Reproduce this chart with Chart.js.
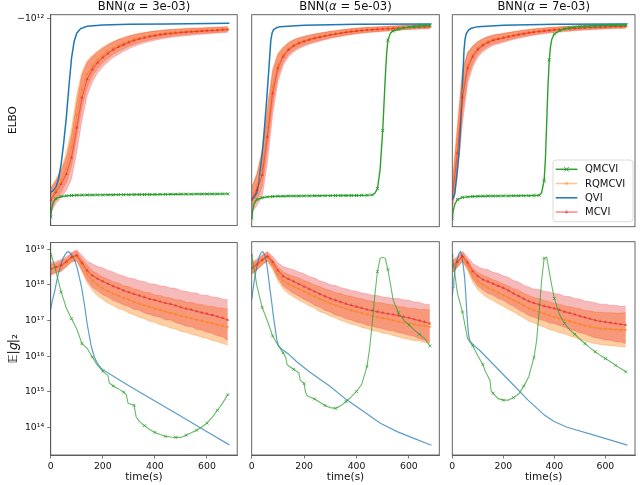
<!DOCTYPE html>
<html><head><meta charset="utf-8">
<title>BNN ELBO and gradient norm</title>
<script src="https://cdn.jsdelivr.net/npm/chart.js@4.4.1/dist/chart.umd.min.js"></script>
<style>
html,body{margin:0;padding:0;background:#fff}
#wrap{position:relative;width:640px;height:485px;overflow:hidden;background:#fff}
canvas{position:absolute}
</style></head><body><div id="wrap"></div>
<script>
// ---------------- DATA ----------------
const alphas = ['3e-03', '5e-03', '7e-03'];
const methods = ['QMCVI', 'RQMCVI', 'QVI', 'MCVI'];
const T = [0,20,40,60,80,100,120,140,160,180,200,220,240,260,280,300,320,340,360,380,400,420,440,460,480,500,520,540,560,580,600,620,640,660,680];
const timeTicks = [0, 200, 400, 600];
const elboTicks = [12];            // log10(-ELBO): -10^12
const gradTicks = [14, 15, 16, 17, 18, 19]; // log10 E|g|2

// ELBO panels: values are log10(-ELBO)
const elbo_MCVI_3e03 = [13.766,13.685,13.605,13.509,13.348,13.059,12.770,12.590,12.495,12.430,12.380,12.340,12.305,12.278,12.255,12.234,12.215,12.200,12.188,12.177,12.168,12.160,12.153,12.147,12.142,12.138,12.134,12.130,12.127,12.124,12.121,12.118,12.115,12.112,12.108];
const elbo_MCVI_hw_3e03 = [0.12,0.11,0.13,0.16,0.21,0.24,0.22,0.16,0.125,0.10,0.09,0.082,0.075,0.072,0.064,0.062,0.056,0.054,0.049,0.047,0.044,0.043,0.040,0.039,0.036,0.035,0.034,0.034,0.031,0.031,0.030,0.030,0.028,0.029,0.027];
const elbo_RQMCVI_3e03 = [13.745,13.660,13.570,13.450,13.250,12.940,12.690,12.540,12.460,12.400,12.355,12.318,12.287,12.262,12.240,12.221,12.204,12.190,12.179,12.169,12.160,12.153,12.146,12.141,12.136,12.132,12.128,12.125,12.122,12.119,12.116,12.114,12.111,12.109,12.105];
const elbo_RQMCVI_hw_3e03 = [0.10,0.10,0.11,0.14,0.18,0.20,0.17,0.13,0.10,0.085,0.075,0.068,0.062,0.058,0.054,0.050,0.047,0.044,0.041,0.039,0.037,0.035,0.034,0.032,0.031,0.030,0.029,0.028,0.027,0.026,0.026,0.025,0.025,0.024,0.024];
const elbo_QVI_3e03 = [[0,13.685],[10,13.669],[20,13.637],[30,13.557],[40,13.413],[50,13.204],[60,12.963],[70,12.658],[80,12.385],[90,12.225],[100,12.144],[115,12.100],[140,12.077],[200,12.064],[300,12.058],[450,12.055],[686,12.048]];
const elbo_QMCVI_3e03 = [[0,13.926],[3,13.862],[8,13.798],[15,13.759],[20,13.748],[40,13.727],[60,13.721],[80,13.717],[100,13.714],[120,13.713],[140,13.712],[160,13.712],[180,13.711],[200,13.711],[220,13.710],[240,13.710],[260,13.709],[280,13.709],[300,13.709],[320,13.708],[340,13.708],[360,13.707],[380,13.707],[400,13.707],[420,13.706],[440,13.706],[460,13.705],[480,13.705],[500,13.705],[520,13.704],[540,13.704],[560,13.703],[580,13.703],[600,13.703],[620,13.702],[640,13.702],[660,13.701],[680,13.701]];

const elbo_MCVI_5e03 = [13.750,13.653,13.509,13.140,12.722,12.480,12.369,12.305,12.266,12.241,12.222,12.206,12.193,12.181,12.170,12.160,12.151,12.143,12.135,12.128,12.122,12.117,12.112,12.109,12.106,12.103,12.100,12.097,12.093,12.090,12.087,12.085,12.083,12.081,12.080];
const elbo_MCVI_hw_5e03 = [0.12,0.15,0.21,0.25,0.21,0.13,0.085,0.068,0.058,0.052,0.047,0.044,0.041,0.039,0.036,0.035,0.033,0.032,0.030,0.029,0.028,0.027,0.026,0.025,0.025,0.024,0.023,0.023,0.022,0.022,0.021,0.021,0.020,0.020,0.020];
const elbo_RQMCVI_5e03 = [13.730,13.620,13.440,13.050,12.660,12.445,12.348,12.290,12.255,12.232,12.214,12.199,12.187,12.176,12.166,12.156,12.148,12.140,12.133,12.126,12.120,12.115,12.110,12.107,12.104,12.101,12.098,12.095,12.092,12.089,12.086,12.084,12.082,12.080,12.078];
const elbo_RQMCVI_hw_5e03 = [0.10,0.13,0.18,0.21,0.17,0.11,0.072,0.058,0.050,0.045,0.041,0.038,0.036,0.034,0.032,0.031,0.029,0.028,0.027,0.026,0.025,0.024,0.023,0.022,0.022,0.021,0.021,0.020,0.020,0.019,0.019,0.019,0.018,0.018,0.018];
const elbo_QVI_5e03 = [[0,13.75],[10,13.72],[19,13.685],[27,13.58],[34,13.43],[40,13.3],[47,13.11],[57,12.79],[66,12.47],[73,12.21],[78,12.14],[83,12.11],[95,12.09],[108,12.08],[200,12.066],[400,12.058],[686,12.055]];
const elbo_QMCVI_5e03 = [[0,13.926],[4,13.85],[10,13.78],[20,13.745],[40,13.728],[60,13.72],[80,13.716],[100,13.714],[120,13.713],[140,13.712],[160,13.711],[180,13.711],[200,13.710],[220,13.710],[240,13.709],[260,13.709],[280,13.708],[300,13.708],[320,13.707],[340,13.707],[360,13.707],[380,13.706],[400,13.706],[420,13.705],[440,13.705],[460,13.700],[470,13.685],[480,13.64],[490,13.46],[500,13.08],[505,12.82],[510,12.56],[515,12.34],[520,12.21],[530,12.14],[540,12.122],[560,12.105],[580,12.092],[600,12.085],[620,12.079],[640,12.074],[660,12.070],[680,12.067]];

const elbo_MCVI_7e03 = [13.72,13.30,12.76,12.48,12.37,12.30,12.26,12.232,12.212,12.200,12.190,12.178,12.167,12.157,12.148,12.140,12.133,12.127,12.121,12.116,12.111,12.107,12.103,12.100,12.097,12.094,12.091,12.089,12.087,12.085,12.083,12.081,12.079,12.078,12.077];
const elbo_MCVI_hw_7e03 = [0.13,0.23,0.25,0.15,0.10,0.075,0.062,0.056,0.050,0.047,0.043,0.041,0.038,0.036,0.034,0.032,0.031,0.029,0.028,0.027,0.026,0.025,0.024,0.024,0.023,0.022,0.022,0.021,0.021,0.020,0.020,0.020,0.019,0.019,0.019];
const elbo_RQMCVI_7e03 = [13.70,13.22,12.70,12.45,12.35,12.285,12.248,12.222,12.203,12.192,12.182,12.171,12.161,12.151,12.143,12.135,12.128,12.122,12.117,12.112,12.108,12.104,12.100,12.097,12.094,12.091,12.089,12.087,12.085,12.083,12.081,12.079,12.078,12.077,12.076];
const elbo_RQMCVI_hw_7e03 = [0.11,0.20,0.21,0.12,0.085,0.064,0.053,0.047,0.043,0.040,0.037,0.035,0.033,0.031,0.029,0.028,0.027,0.025,0.024,0.023,0.022,0.022,0.021,0.021,0.020,0.020,0.019,0.019,0.018,0.018,0.018,0.017,0.017,0.017,0.017];
const elbo_QVI_7e03 = [[0,13.75],[5,13.72],[10,13.685],[18,13.5],[27,13.28],[32,13.05],[37,12.8],[42,12.52],[46,12.305],[50,12.2],[55,12.144],[65,12.11],[74,12.096],[100,12.08],[200,12.066],[400,12.058],[686,12.055]];
const elbo_QMCVI_7e03 = [[0,13.926],[4,13.85],[10,13.79],[20,13.745],[40,13.725],[60,13.72],[80,13.716],[100,13.714],[120,13.713],[140,13.712],[160,13.711],[180,13.711],[200,13.710],[220,13.710],[240,13.709],[260,13.709],[280,13.708],[300,13.708],[320,13.707],[340,13.705],[350,13.68],[360,13.56],[365,13.35],[370,13.0],[375,12.65],[380,12.4],[385,12.27],[390,12.2],[400,12.15],[420,12.12],[440,12.1],[460,12.09],[480,12.085],[500,12.08],[520,12.077],[540,12.074],[560,12.072],[580,12.07],[600,12.068],[620,12.067],[640,12.066],[660,12.065],[680,12.064]];

// Gradient-norm panels: values are log10 E|g|2
const grad_MCVI_3e03 = [18.45,18.50,18.55,18.65,18.78,18.83,18.62,18.40,18.26,18.17,18.10,18.03,17.96,17.90,17.84,17.79,17.74,17.70,17.65,17.60,17.57,17.53,17.49,17.46,17.42,17.37,17.33,17.30,17.26,17.22,17.19,17.15,17.11,17.07,17.01];
const grad_MCVI_hw_3e03 = [0.17,0.15,0.16,0.14,0.13,0.15,0.21,0.27,0.33,0.34,0.38,0.37,0.40,0.39,0.41,0.40,0.43,0.41,0.44,0.43,0.45,0.44,0.47,0.45,0.48,0.47,0.49,0.48,0.51,0.49,0.52,0.51,0.54,0.53,0.57];
const grad_RQMCVI_3e03 = [18.42,18.46,18.52,18.62,18.75,18.80,18.55,18.30,18.12,18.00,17.90,17.82,17.75,17.69,17.63,17.58,17.52,17.47,17.42,17.38,17.33,17.29,17.25,17.21,17.17,17.13,17.09,17.06,17.02,16.99,16.95,16.92,16.88,16.85,16.81];
const grad_RQMCVI_hw_3e03 = [0.15,0.13,0.15,0.12,0.12,0.14,0.17,0.25,0.27,0.31,0.31,0.34,0.33,0.36,0.34,0.37,0.36,0.38,0.37,0.40,0.38,0.41,0.40,0.42,0.41,0.44,0.42,0.45,0.44,0.46,0.45,0.48,0.47,0.50,0.50];
const grad_QVI_3e03 = [[0,17.31],[6,17.55],[12,17.72],[17,17.88],[23,18.1],[29,18.3],[36,18.48],[42,18.63],[48,18.75],[55,18.84],[62,18.91],[68,18.93],[74,18.9],[80,18.84],[88,18.75],[95,18.63],[103,18.43],[110,18.21],[118,17.95],[125,17.65],[133,17.28],[140,16.9],[148,16.58],[155,16.3],[163,16.08],[170,15.93],[178,15.82],[185,15.74],[193,15.67],[200,15.62],[250,15.39],[300,15.17],[400,14.74],[500,14.31],[600,13.88],[686,13.51]];
const grad_QMCVI_3e03 = [[0,18.85],[5,18.78],[20,18.38],[40,17.80],[60,17.35],[80,17.05],[100,16.76],[120,16.35],[140,16.22],[160,15.97],[180,15.74],[200,15.58],[220,15.45],[225,15.25],[240,15.16],[260,15.08],[280,14.99],[290,14.92],[297,14.68],[300,14.67],[320,14.62],[328,14.30],[340,14.17],[360,14.05],[380,13.94],[400,13.86],[420,13.80],[440,13.75],[460,13.73],[480,13.72],[500,13.72],[520,13.78],[540,13.85],[560,13.92],[580,14.01],[600,14.12],[620,14.28],[640,14.48],[660,14.68],[680,14.92]];

const grad_MCVI_5e03 = [18.45,18.55,18.68,18.78,18.62,18.38,18.22,18.14,18.07,18.00,17.93,17.86,17.79,17.72,17.66,17.60,17.55,17.50,17.45,17.41,17.37,17.33,17.29,17.26,17.23,17.20,17.17,17.15,17.12,17.09,17.06,17.02,16.98,16.94,16.90];
const grad_MCVI_hw_5e03 = [0.17,0.15,0.14,0.13,0.16,0.22,0.27,0.30,0.33,0.34,0.36,0.35,0.38,0.37,0.39,0.38,0.41,0.40,0.42,0.41,0.43,0.42,0.44,0.43,0.45,0.44,0.46,0.45,0.48,0.47,0.49,0.48,0.51,0.50,0.53];
const grad_RQMCVI_5e03 = [18.42,18.52,18.66,18.76,18.55,18.28,18.10,18.00,17.93,17.86,17.79,17.72,17.65,17.58,17.52,17.46,17.41,17.36,17.31,17.27,17.23,17.19,17.15,17.11,17.08,17.05,17.02,16.99,16.95,16.92,16.89,16.87,16.85,16.83,16.81];
const grad_RQMCVI_hw_5e03 = [0.15,0.13,0.13,0.12,0.14,0.19,0.24,0.27,0.29,0.31,0.31,0.33,0.32,0.35,0.34,0.36,0.35,0.38,0.37,0.39,0.38,0.40,0.39,0.41,0.40,0.42,0.41,0.43,0.42,0.44,0.43,0.45,0.44,0.46,0.47];
const grad_QVI_5e03 = [[0,17.56],[6,17.9],[12,18.2],[17,18.39],[23,18.6],[29,18.77],[36,18.88],[42,18.91],[50,18.8],[57,18.58],[64,18.2],[70,17.84],[77,17.45],[83,17.09],[90,16.75],[96,16.44],[102,16.28],[115,16.18],[140,16.05],[172,15.83],[220,15.55],[300,15.14],[360,14.78],[427,14.44],[491,14.11],[555,13.88],[619,13.69],[686,13.5]];
const grad_QMCVI_5e03 = [[0,18.81],[20,17.95],[40,17.35],[60,16.97],[80,16.55],[100,16.30],[120,16.08],[130,15.95],[135,15.76],[140,15.72],[160,15.62],[180,15.52],[185,15.32],[200,15.22],[205,15.0],[210,14.9],[220,14.85],[240,14.79],[260,14.70],[280,14.61],[300,14.55],[320,14.53],[340,14.60],[360,14.72],[380,14.85],[400,15.0],[420,15.2],[440,15.7],[450,16.2],[460,16.9],[470,17.7],[480,18.35],[490,18.72],[500,18.75],[510,18.72],[520,18.4],[540,17.55],[560,17.2],[580,17.0],[600,16.86],[620,16.72],[640,16.6],[660,16.48],[680,16.27]];

const grad_MCVI_7e03 = [18.50,18.62,18.78,18.60,18.36,18.22,18.13,18.07,18.01,17.95,17.89,17.82,17.74,17.67,17.59,17.52,17.47,17.43,17.39,17.35,17.32,17.28,17.23,17.19,17.15,17.11,17.07,17.03,16.99,16.96,16.94,16.92,16.90,16.88,16.86];
const grad_MCVI_hw_7e03 = [0.18,0.15,0.14,0.16,0.22,0.27,0.30,0.33,0.32,0.35,0.34,0.37,0.36,0.39,0.38,0.40,0.39,0.42,0.41,0.43,0.42,0.44,0.43,0.46,0.45,0.47,0.46,0.48,0.49,0.48,0.50,0.49,0.51,0.50,0.52];
const grad_RQMCVI_7e03 = [18.47,18.60,18.76,18.52,18.25,18.08,17.98,17.90,17.83,17.76,17.69,17.62,17.55,17.48,17.40,17.32,17.27,17.22,17.17,17.12,17.08,17.04,17.00,16.96,16.92,16.88,16.84,16.81,16.78,16.76,16.75,16.74,16.73,16.72,16.72];
const grad_RQMCVI_hw_7e03 = [0.16,0.13,0.13,0.14,0.19,0.24,0.27,0.29,0.29,0.31,0.31,0.33,0.32,0.35,0.34,0.36,0.35,0.38,0.37,0.39,0.38,0.40,0.39,0.41,0.41,0.43,0.42,0.44,0.44,0.45,0.45,0.46,0.46,0.47,0.48];
const grad_QVI_7e03 = [[0,17.65],[3,17.9],[6,18.12],[11,18.4],[17,18.63],[26,18.86],[32,18.91],[38,18.75],[43,18.5],[48,18.21],[53,17.7],[57,17.18],[61,16.8],[65,16.53],[70,16.4],[85,16.28],[106,16.16],[170,15.69],[233,15.23],[297,14.76],[361,14.34],[399,14.16],[450,14.0],[552,13.79],[686,13.5]];
const grad_QMCVI_7e03 = [[0,18.81],[20,17.75],[40,17.22],[50,16.84],[60,16.48],[80,16.28],[100,16.0],[120,15.75],[130,15.55],[140,15.42],[148,15.3],[152,15.02],[160,14.95],[180,14.8],[200,14.76],[220,14.76],[240,14.83],[260,14.93],[280,15.15],[300,15.42],[320,15.95],[330,16.4],[340,17.2],[350,18.1],[360,18.72],[370,18.75],[380,18.35],[390,17.95],[400,17.6],[420,17.15],[440,16.9],[460,16.72],[480,16.6],[500,16.46],[520,16.34],[540,16.22],[560,16.11],[580,16.01],[600,15.92],[620,15.83],[640,15.73],[660,15.64],[680,15.55]];

// ---------------- TABLES FOR THE LIBRARY ----------------
const PANELS = [
  [
    {mcvi: elbo_MCVI_3e03, mcviHw: elbo_MCVI_hw_3e03, rq: elbo_RQMCVI_3e03, rqHw: elbo_RQMCVI_hw_3e03, qvi: elbo_QVI_3e03, qmc: elbo_QMCVI_3e03},
    {mcvi: elbo_MCVI_5e03, mcviHw: elbo_MCVI_hw_5e03, rq: elbo_RQMCVI_5e03, rqHw: elbo_RQMCVI_hw_5e03, qvi: elbo_QVI_5e03, qmc: elbo_QMCVI_5e03},
    {mcvi: elbo_MCVI_7e03, mcviHw: elbo_MCVI_hw_7e03, rq: elbo_RQMCVI_7e03, rqHw: elbo_RQMCVI_hw_7e03, qvi: elbo_QVI_7e03, qmc: elbo_QMCVI_7e03}
  ],
  [
    {mcvi: grad_MCVI_3e03, mcviHw: grad_MCVI_hw_3e03, rq: grad_RQMCVI_3e03, rqHw: grad_RQMCVI_hw_3e03, qvi: grad_QVI_3e03, qmc: grad_QMCVI_3e03},
    {mcvi: grad_MCVI_5e03, mcviHw: grad_MCVI_hw_5e03, rq: grad_RQMCVI_5e03, rqHw: grad_RQMCVI_hw_5e03, qvi: grad_QVI_5e03, qmc: grad_QMCVI_5e03},
    {mcvi: grad_MCVI_7e03, mcviHw: grad_MCVI_hw_7e03, rq: grad_RQMCVI_7e03, rqHw: grad_RQMCVI_hw_7e03, qvi: grad_QVI_7e03, qmc: grad_QMCVI_7e03}
  ]
];

// ---------------- LAYOUT / STYLE ----------------
Chart.defaults.font.family = '"DejaVu Sans", sans-serif';
Chart.defaults.color = '#111';
const FAM = '"DejaVu Sans", sans-serif';
const COLS = [{l:50.7, r:237.2}, {l:251.7, r:439.3}, {l:452.3, r:639.3}];
const ROWS = [{t:14.7, b:226.7}, {t:241.7, b:455}];
const BOXX = [[0,244],[244,446],[446,640]];
const BOXY = [[0,234],[234,485]];
const RED = '228,26,28', ORANGE = '255,127,14';
const AXC = '#555';
const SUP = {'0':'⁰','1':'¹','2':'²','3':'³','4':'⁴','5':'⁵','6':'⁶','7':'⁷','8':'⁸','9':'⁹','-':'⁻'};
const sup = s => String(s).split('').map(c => SUP[c]).join('');

function drawMarker(ctx, style, x, y, r, color) {
  ctx.save(); ctx.fillStyle = color; ctx.strokeStyle = color; ctx.lineWidth = 1;
  ctx.beginPath();
  if (style === 'x') {
    ctx.moveTo(x-r, y-r); ctx.lineTo(x+r, y+r); ctx.moveTo(x-r, y+r); ctx.lineTo(x+r, y-r); ctx.stroke();
  } else if (style === 'up') {
    ctx.moveTo(x, y-r); ctx.lineTo(x+r*0.9, y+r*0.6); ctx.lineTo(x-r*0.9, y+r*0.6); ctx.closePath(); ctx.fill();
  } else if (style === 'down') {
    ctx.moveTo(x, y+r); ctx.lineTo(x+r*0.9, y-r*0.6); ctx.lineTo(x-r*0.9, y-r*0.6); ctx.closePath(); ctx.fill();
  }
  ctx.restore();
}

const framePlugin = {
  id: 'frame',
  afterDatasetsDraw(chart) {
    const {ctx, chartArea: a} = chart;
    ctx.save(); ctx.strokeStyle = AXC; ctx.lineWidth = 0.9;
    ctx.strokeRect(a.left, a.top, a.right - a.left, a.bottom - a.top);
    ctx.restore();
  }
};

const titlePlugin = {
  id: 'panelTitle',
  afterDraw(chart, _a, o) {
    if (!o || !o.value) return;
    const {ctx, chartArea: a} = chart;
    const fs = 11.6;
    const parts = [['BNN(', `${fs}px ${FAM}`], ['α', `italic ${fs}px ${FAM}`], [' = ' + o.value + ')', `${fs}px ${FAM}`]];
    ctx.save(); ctx.fillStyle = '#111'; ctx.textBaseline = 'middle'; ctx.textAlign = 'left';
    let w = 0;
    parts.forEach(p => { ctx.font = p[1]; w += ctx.measureText(p[0]).width; });
    let x = (a.left + a.right) / 2 - w / 2;
    parts.forEach(p => { ctx.font = p[1]; ctx.fillText(p[0], x, o.y); x += ctx.measureText(p[0]).width; });
    ctx.restore();
  }
};

const LEG_STYLE = {
  QMCVI: {color: '#2ca02c', marker: 'x'},
  RQMCVI: {color: `rgba(${ORANGE},0.45)`, marker: 'down'},
  QVI: {color: '#1f77b4', marker: null},
  MCVI: {color: `rgba(${RED},0.5)`, marker: 'up'}
};
const legendPlugin = {
  id: 'legendBox',
  afterDraw(chart, _a, o) {
    if (!o || !o.show) return;
    const {ctx, chartArea: a} = chart;
    const w = 80, h = 61.7, x = a.right - 2 - w, y = a.bottom - 5 - h;
    ctx.save();
    ctx.beginPath();
    if (ctx.roundRect) ctx.roundRect(x, y, w, h, 3); else ctx.rect(x, y, w, h);
    ctx.fillStyle = 'rgba(255,255,255,0.85)'; ctx.fill();
    ctx.strokeStyle = '#d0d0d0'; ctx.lineWidth = 0.8; ctx.stroke();
    methods.forEach((m, i) => {
      const st = LEG_STYLE[m];
      const cy = y + 9.3 + i * 14.25;
      ctx.strokeStyle = st.color; ctx.lineWidth = 1.5;
      ctx.beginPath(); ctx.moveTo(x + 2.7, cy); ctx.lineTo(x + 24.4, cy); ctx.stroke();
      if (st.marker) drawMarker(ctx, st.marker, x + 13.5, cy, 2.2, st.color);
      ctx.fillStyle = '#111'; ctx.font = `10px ${FAM}`; ctx.textBaseline = 'middle'; ctx.textAlign = 'left';
      ctx.fillText(m, x + 32, cy + 0.5);
    });
    ctx.restore();
  }
};

function makePanel(row, col) {
  const top = row === 0;
  const conv = top ? (v => v) : (v => Math.pow(10, v));
  const d = PANELS[row][col];
  const area = {l: COLS[col].l, r: COLS[col].r, t: ROWS[row].t, b: ROWS[row].b};
  const box = {l: BOXX[col][0], w: BOXX[col][1] - BOXX[col][0], t: BOXY[row][0], h: BOXY[row][1] - BOXY[row][0]};
  const showY = col === 0, showX = !top;
  const yW = showY ? area.l - box.l : 0;
  const xH = showX ? (box.t + box.h - area.b) : 0;

  const cv = document.createElement('canvas');
  cv.width = box.w; cv.height = box.h;
  cv.style.left = box.l + 'px'; cv.style.top = box.t + 'px';
  cv.style.width = box.w + 'px'; cv.style.height = box.h + 'px';
  document.getElementById('wrap').appendChild(cv);

  const band = (mean, hw, s) => T.map((t, i) => ({x: t, y: conv(mean[i] + s * hw[i])}));
  const line = (mean) => T.map((t, i) => ({x: t, y: conv(mean[i])}));
  const pairs = (arr) => arr.map(p => ({x: p[0], y: conv(p[1])}));
  const step = top ? 20 : 40;
  const greenC = top ? '#2ca02c' : 'rgba(44,160,44,0.72)';
  const blueC = top ? '#1f77b4' : 'rgba(31,119,180,0.72)';

  const datasets = [
    {label: 'QMCVI', data: pairs(d.qmc), borderColor: greenC, borderWidth: top ? 1.4 : 1.1,
     pointStyle: 'crossRot', pointRadius: d.qmc.map(p => p[0] % step === 0 ? 2.1 : 0),
     pointBorderColor: greenC, pointBackgroundColor: greenC, pointBorderWidth: 1, order: 1},
    {label: 'MCVI', data: line(d.mcvi), borderColor: `rgba(${RED},0.5)`, borderWidth: 1.1,
     pointStyle: 'triangle', pointRadius: 2, pointBackgroundColor: `rgba(${RED},0.5)`, pointBorderWidth: 0, order: 2},
    {label: 'RQMCVI', data: line(d.rq), borderColor: `rgba(${ORANGE},0.55)`, borderWidth: 1.1,
     pointStyle: 'triangle', pointRotation: 180, pointRadius: 2, pointBackgroundColor: `rgba(${ORANGE},0.55)`, pointBorderWidth: 0, order: 3},
    {label: 'QVI', data: pairs(d.qvi), borderColor: blueC, borderWidth: top ? 1.5 : 1.2, pointRadius: 0, order: 4},
    {label: 'MCVI low', data: band(d.mcvi, d.mcviHw, -1), borderColor: `rgba(${RED},0.28)`, borderWidth: 0.7, pointRadius: 0, fill: false, order: 5},
    {label: 'MCVI high', data: band(d.mcvi, d.mcviHw, 1), borderColor: `rgba(${RED},0.28)`, borderWidth: 0.7, pointRadius: 0,
     fill: '-1', backgroundColor: `rgba(${RED},0.3)`, order: 5},
    {label: 'RQMCVI low', data: band(d.rq, d.rqHw, -1), borderColor: `rgba(${ORANGE},0.45)`, borderWidth: 0.7, pointRadius: 0, fill: false, order: 6},
    {label: 'RQMCVI high', data: band(d.rq, d.rqHw, 1), borderColor: `rgba(${ORANGE},0.45)`, borderWidth: 0.7, pointRadius: 0,
     fill: '-1', backgroundColor: `rgba(${ORANGE},0.38)`, order: 6}
  ];

  const tickFont = {size: 9.3, family: FAM};
  const yScale = top ? {
    type: 'linear', reverse: true, min: 11.965, max: 14.007, bounds: 'data',
    afterBuildTicks: s => { s.ticks = elboTicks.map(v => ({value: v})); },
    ticks: {font: tickFont, color: '#111', padding: 3, autoSkip: false, callback: v => '−10' + sup(v)},
    title: {display: showY, text: 'ELBO', font: {size: 10.5, family: FAM}, color: '#111', padding: {top: 7, bottom: 0}}
  } : {
    type: 'logarithmic', min: Math.pow(10, 13.226), max: Math.pow(10, 19.184), bounds: 'data',
    afterBuildTicks: s => { s.ticks = gradTicks.map(e => ({value: Math.pow(10, e)})); },
    ticks: {font: tickFont, color: '#111', padding: 3, autoSkip: false, callback: v => '10' + sup(Math.round(Math.log10(v)))},
    title: {display: showY, text: '𝔼|𝑔|₂', font: {size: 12.5, family: FAM}, color: '#111', padding: {top: 6, bottom: 0}}
  };
  Object.assign(yScale, {
    display: showY, position: 'left',
    grid: {display: true, drawOnChartArea: false, drawTicks: true, tickLength: 3.5, color: AXC, lineWidth: 0.8},
    border: {display: true, color: AXC, width: 0.9},
    afterFit: s => { s.width = yW; }
  });
  const xScale = {
    type: 'linear', min: 0, max: 716, bounds: 'data', display: showX, position: 'bottom',
    afterBuildTicks: s => { s.ticks = timeTicks.map(v => ({value: v})); },
    ticks: {font: tickFont, color: '#111', padding: 2.5, autoSkip: false, maxRotation: 0},
    grid: {display: true, drawOnChartArea: false, drawTicks: true, tickLength: 3.5, color: AXC, lineWidth: 0.8},
    border: {display: true, color: AXC, width: 0.9},
    title: {display: showX, text: 'time(s)', font: {size: 10.5, family: FAM}, color: '#111', padding: {top: 0, bottom: 1}},
    afterFit: s => { s.height = xH; }
  };

  new Chart(cv, {
    type: 'line',
    data: {datasets},
    options: {
      responsive: false, animation: false, events: [],
      layout: {padding: {
        left: area.l - box.l - yW,
        right: box.l + box.w - area.r,
        top: area.t - box.t,
        bottom: box.t + box.h - area.b - xH
      }},
      scales: {x: xScale, y: yScale},
      elements: {line: {tension: 0}},
      plugins: {
        legend: {display: false}, tooltip: {enabled: false},
        panelTitle: top ? {value: alphas[col], y: 7} : {},
        legendBox: {show: top && col === 2}
      }
    },
    plugins: [framePlugin, titlePlugin, legendPlugin]
  });
}

for (let r = 0; r < 2; r++) for (let c = 0; c < 3; c++) makePanel(r, c);
</script></body></html>
